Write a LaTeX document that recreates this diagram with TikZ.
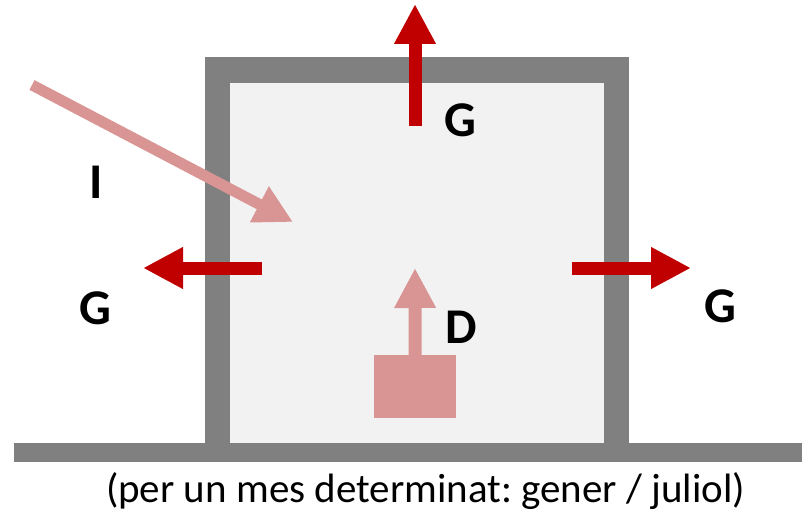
\documentclass[tikz,border=0pt]{standalone}
\usepackage{fontspec}
\setmainfont{Carlito}
\usetikzlibrary{arrows.meta}
\definecolor{wallgray}{HTML}{808080}
\definecolor{inside}{HTML}{F2F2F2}
\definecolor{heatred}{HTML}{C00000}
\definecolor{pinkred}{HTML}{D99594}
\tikzset{
  lossarrow/.style={draw=heatred, line width=13pt, -{Triangle[length=40pt,width=39pt]}},
  gainarrow/.style={draw=pinkred, line width=13pt, -{Triangle[length=40pt,width=39pt]}},
  solararrow/.style={draw=pinkred, line width=11pt, -{Triangle[length=38pt,width=38pt]}},
  lbl/.style={font=\fontsize{50}{50}\selectfont\bfseries, inner sep=0pt, text=black},
  caption/.style={font=\fontsize{41}{41}\selectfont\frenchspacing, inner sep=0pt, text=black, anchor=base},
}
\begin{document}
\begin{tikzpicture}[x=1pt, y=-1pt]
\useasboundingbox (0,0) rectangle (802,513);
% building
\fill[wallgray] (205,57) rectangle (629,443);
\fill[inside] (230,83) rectangle (604,443);
\fill[wallgray] (14,443) rectangle (802,462);
% internal source box
\node[fill=pinkred, minimum width=82pt, minimum height=63pt, inner sep=0pt, anchor=north west] (src) at (374,355) {};
% coordinates
\coordinate (topS) at (415,126);
\coordinate (topT) at (415,4);
\coordinate (leftS) at (262,268);
\coordinate (leftT) at (143,268);
\coordinate (rightS) at (572,268);
\coordinate (rightT) at (691,268);
\coordinate (dT) at (415,268);
\coordinate (iS) at (32,85);
\coordinate (iT) at (293,222);
% arrows
\draw[lossarrow] (topS) -- (topT);
\draw[lossarrow] (leftS) -- (leftT);
\draw[lossarrow] (rightS) -- (rightT);
\draw[gainarrow] (src.north) -- (dT);
\draw[solararrow] (iS) -- (iT);
% labels
\node[lbl] (gtop) at (460,120) {G};
\node[lbl] (gleft) at (95,308) {G};
\node[lbl] (gright) at (720,306) {G};
\node[lbl] (dlbl) at (461,327) {D};
\node[lbl] (ilbl) at (96,182) {I};
\node[caption] (cap) at (425.5,502) {(per un mes determinat: gener / juliol)};
\end{tikzpicture}
\end{document}
